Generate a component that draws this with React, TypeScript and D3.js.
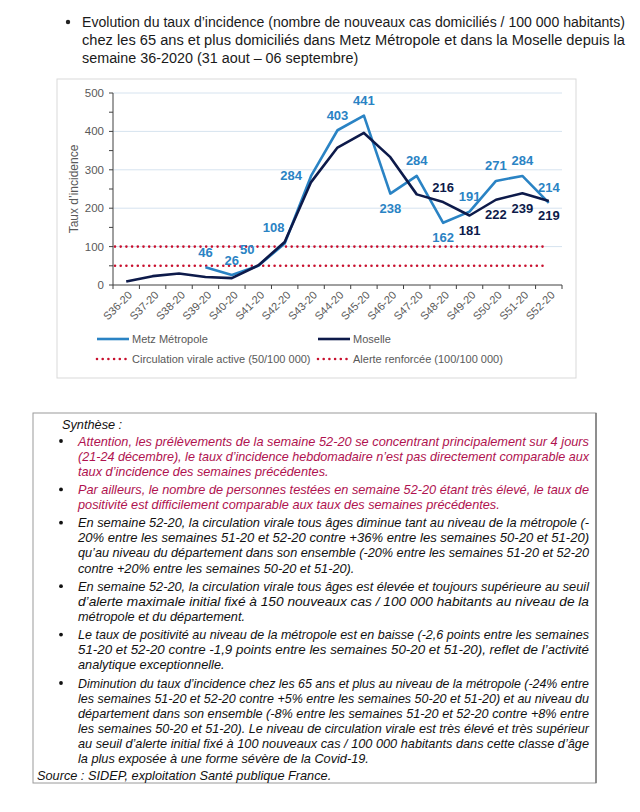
import * as d3 from "d3";
import React, { useEffect, useRef } from "react";

const W = 640;
const H = 812;
const FONT = "'Liberation Sans', Arial, sans-serif";

/* ---------- data ---------- */
const weeks = [
  "S36-20", "S37-20", "S38-20", "S39-20", "S40-20", "S41-20", "S42-20", "S43-20", "S44-20",
  "S45-20", "S46-20", "S47-20", "S48-20", "S49-20", "S50-20", "S51-20", "S52-20",
];
const metz: (number | null)[] = [null, null, null, 46, 26, 50, 108, 284, 403, 441, 238, 284, 162, 191, 271, 284, 214];
const moselle = [9, 23, 30, 21, 18, 51, 112, 268, 358, 396, 333, 236, 216, 181, 222, 239, 219];
const moselleLabelled = ["S48-20", "S49-20", "S50-20", "S51-20", "S52-20"];
const yTicks = [0, 100, 200, 300, 400, 500];
const thresholds = [50, 100];

const seriesNames = ["Metz Métropole", "Moselle"];
const thresholdNames = ["Circulation virale active (50/100 000)", "Alerte renforcée (100/100 000)"];

// where each value label sits relative to its point
const metzPlace = ["t", "t", "t", "t", "t", "tl", "tl", "l", "t", "t", "b", "t", "b", "t", "t", "t", "t"];
const mosellePlace = ["t", "t", "t", "t", "t", "t", "t", "t", "t", "t", "t", "t", "t", "b", "b", "b", "b"];

const titleLines = [
  "Evolution du taux d’incidence (nombre de nouveaux cas domiciliés / 100 000 habitants)",
  "chez les 65 ans et plus domiciliés dans Metz Métropole et dans la Moselle depuis la",
  "semaine 36-2020 (31 aout – 06 septembre)",
];

const synthese: { color: string; lines: string[] }[] = [
  {
    color: "#b0124f",
    lines: [
      "Attention, les prélèvements de la semaine 52-20 se concentrant principalement sur 4 jours",
      "(21-24 décembre), le taux d’incidence hebdomadaire n’est pas directement comparable aux",
      "taux d’incidence des semaines précédentes.",
    ],
  },
  {
    color: "#b0124f",
    lines: [
      "Par ailleurs, le nombre de personnes testées en semaine 52-20 étant très élevé, le taux de",
      "positivité est difficilement comparable aux taux des semaines précédentes.",
    ],
  },
  {
    color: "#111",
    lines: [
      "En semaine 52-20, la circulation virale tous âges diminue tant au niveau de la métropole (-",
      "20% entre les semaines 51-20 et 52-20 contre +36% entre les semaines 50-20 et 51-20)",
      "qu’au niveau du département dans son ensemble (-20% entre les semaines 51-20 et 52-20",
      "contre +20% entre les semaines 50-20 et 51-20).",
    ],
  },
  {
    color: "#111",
    lines: [
      "En semaine 52-20, la circulation virale tous âges est élevée et toujours supérieure au seuil",
      "d’alerte maximale initial fixé à 150 nouveaux cas / 100 000 habitants au niveau de la",
      "métropole et du département.",
    ],
  },
  {
    color: "#111",
    lines: [
      "Le taux de positivité au niveau de la métropole est en baisse (-2,6 points entre les semaines",
      "51-20 et 52-20 contre -1,9 points entre les semaines 50-20 et 51-20), reflet de l’activité",
      "analytique exceptionnelle.",
    ],
  },
  {
    color: "#111",
    lines: [
      "Diminution du taux d’incidence chez les 65 ans et plus au niveau de la métropole (-24% entre",
      "les semaines 51-20 et 52-20 contre +5% entre les semaines 50-20 et 51-20) et au niveau du",
      "département dans son ensemble (-8% entre les semaines 51-20 et 52-20 contre +8% entre",
      "les semaines 50-20 et 51-20). Le niveau de circulation virale est très élevé et très supérieur",
      "au seuil d’alerte initial fixé à 100 nouveaux cas / 100 000 habitants dans cette classe d’âge",
      "la plus exposée à une forme sévère de la Covid-19.",
    ],
  },
];

/* ---------- layout ---------- */
const plot = { left: 113, right: 562, top: 93, bottom: 285 };
const METZ_C = "#2a83c4";
const MOS_C = "#0d1a4a";
const RED = "#c8102e";
const GRAY = "#595959";

const x = d3.scaleBand<string>().domain(weeks).range([plot.left, plot.right]);
const cx = (w: string) => (x(w) ?? 0) + x.bandwidth() / 2;
const y = d3.scaleLinear().domain([0, 500]).range([plot.bottom, plot.top]);

const offsets: Record<string, [number, number]> = {
  t: [0, -15],
  b: [0, 15],
  tl: [-11, -16],
  l: [-20, 0],
};

export default function App() {
  const svgRef = useRef<SVGSVGElement | null>(null);

  // fit justified lines to full width, condense the rest by the same ratio
  useEffect(() => {
    if (!svgRef.current) return;
    const svg = d3.select(svgRef.current);
    ["title", "body"].forEach((grp) => {
      const texts = svg.selectAll<SVGTextElement, unknown>(`text.${grp}`).nodes();
      const ratios: number[] = [];
      texts.forEach((t) => {
        const target = +(t.getAttribute("data-w") || 0);
        if (target > 0) ratios.push(target / t.getComputedTextLength());
      });
      const k = d3.median(ratios) ?? 1;
      texts.forEach((t) => {
        const target = +(t.getAttribute("data-w") || 0);
        const len = target > 0 ? target : t.getComputedTextLength() * k;
        t.setAttribute("textLength", String(len));
        t.setAttribute("lengthAdjust", "spacingAndGlyphs");
      });
    });
  }, []);

  const metzLine = d3
    .line<number | null>()
    .defined((d) => d !== null)
    .x((_, i) => cx(weeks[i]))
    .y((d) => y(d as number));
  const mosLine = d3
    .line<number>()
    .x((_, i) => cx(weeks[i]))
    .y((d) => y(d));

  const thrX0 = plot.left + 2;
  const thrX1 = cx(weeks[weeks.length - 1]) - 2;

  // body text lines
  const bodyLeft = 78;
  const bodyRight = 589;
  let ly = 441;
  const bodyRows: { text: string; y: number; color: string; justify: boolean; bullet: boolean }[] = [];
  synthese.forEach((p) => {
    p.lines.forEach((l, i) => {
      bodyRows.push({ text: l, y: ly, color: p.color, justify: i < p.lines.length - 1, bullet: i === 0 });
      ly += 15.1;
    });
    ly += 3.1;
  });

  return (
    <svg ref={svgRef} width={W} height={H} style={{ display: "block", position: "absolute", left: 0, top: 0 }} fontFamily={FONT}>
      <rect width={W} height={H} fill="#fff" />

      {/* ---------- title ---------- */}
      <circle cx={68} cy={22} r={2.2} fill="#222" />
      {titleLines.map((t, i) => (
        <text
          key={i}
          className="title"
          x={82}
          y={22 + i * 17.8}
          dy="0.35em"
          fontSize={14}
          fill="#1a1a1a"
          data-w={i < titleLines.length - 1 ? 625 - 82 : 0}
        >
          {t}
        </text>
      ))}

      {/* ---------- chart frame ---------- */}
      <rect x={57} y={79} width={519} height={299} fill="#fff" stroke="#d9d9d9" />

      {/* gridlines */}
      {yTicks.slice(1).map((t) => (
        <line key={t} x1={plot.left} x2={plot.right} y1={y(t)} y2={y(t)} stroke="#d6e3ef" />
      ))}

      {/* thresholds */}
      {thresholds.map((t) => (
        <line
          key={t}
          x1={thrX0}
          x2={thrX1}
          y1={y(t)}
          y2={y(t)}
          stroke={RED}
          strokeWidth={2.6}
          strokeDasharray="0 5.7"
          strokeLinecap="round"
        />
      ))}

      {/* axes */}
      <line x1={plot.left} x2={plot.left} y1={plot.top} y2={plot.bottom} stroke="#404040" />
      {d3.range(0, 501, 50).map((t) => (
        <line key={t} x1={plot.left - 4} x2={plot.left} y1={y(t)} y2={y(t)} stroke="#404040" />
      ))}
      {yTicks.map((t) => (
        <text key={t} x={plot.left - 9} y={y(t)} dy="0.35em" textAnchor="end" fontSize={11.5} fill={GRAY}>
          {t}
        </text>
      ))}
      <text
        transform={`translate(74,${(plot.top + plot.bottom) / 2}) rotate(-90)`}
        textAnchor="middle"
        dy="0.35em"
        fontSize={12}
        fill={GRAY}
      >
        Taux d’incidence
      </text>

      <line x1={plot.left} x2={plot.right} y1={plot.bottom} y2={plot.bottom} stroke="#404040" />
      {[...weeks.map((w) => x(w) ?? 0), plot.right].map((v, i) => (
        <line key={i} x1={v} x2={v} y1={plot.bottom} y2={plot.bottom + 4} stroke="#404040" />
      ))}
      {weeks.map((w) => (
        <text
          key={w}
          transform={`translate(${cx(w) + 4},${plot.bottom + 8}) rotate(-45)`}
          textAnchor="end"
          dy="0.35em"
          fontSize={11}
          fill={GRAY}
        >
          {w}
        </text>
      ))}

      {/* series */}
      <path d={metzLine(metz) ?? ""} fill="none" stroke={METZ_C} strokeWidth={2.6} strokeLinejoin="round" />
      <path d={mosLine(moselle) ?? ""} fill="none" stroke={MOS_C} strokeWidth={2.6} strokeLinejoin="round" />

      {/* value labels */}
      {metz.map((v, i) => {
        if (v === null) return null;
        const [dx, dy] = offsets[metzPlace[i]];
        return (
          <text
            key={"m" + i}
            x={cx(weeks[i]) + dx}
            y={y(v) + dy}
            dy="0.35em"
            textAnchor="middle"
            fontSize={13}
            fontWeight="bold"
            fill={METZ_C}
          >
            {v}
          </text>
        );
      })}
      {moselle.map((v, i) => {
        if (!moselleLabelled.includes(weeks[i])) return null;
        const [dx, dy] = offsets[mosellePlace[i]];
        return (
          <text
            key={"s" + i}
            x={cx(weeks[i]) + dx}
            y={y(v) + dy}
            dy="0.35em"
            textAnchor="middle"
            fontSize={13}
            fontWeight="bold"
            fill={MOS_C}
          >
            {v}
          </text>
        );
      })}

      {/* legend */}
      {seriesNames.map((n, i) => {
        const lx = i === 0 ? 97 : 318;
        return (
          <g key={n}>
            <line x1={lx} x2={lx + 32} y1={339} y2={339} stroke={i === 0 ? METZ_C : MOS_C} strokeWidth={2.6} />
            <text x={lx + 35} y={339} dy="0.35em" fontSize={11} fill={GRAY}>
              {n}
            </text>
          </g>
        );
      })}
      {thresholdNames.map((n, i) => {
        const lx = i === 0 ? 97 : 318;
        return (
          <g key={n}>
            <line
              x1={lx}
              x2={lx + 31}
              y1={359}
              y2={359}
              stroke={RED}
              strokeWidth={2.6}
              strokeDasharray="0 5.7"
              strokeLinecap="round"
            />
            <text x={lx + 35} y={359} dy="0.35em" fontSize={11} fill={GRAY}>
              {n}
            </text>
          </g>
        );
      })}

      {/* ---------- synthèse box ---------- */}
      <rect x={33} y={413} width={563} height={370} fill="#fff" stroke="#9a9a9a" />
      <line x1={596} x2={596} y1={413} y2={783} stroke="#7a7a7a" strokeWidth={1.5} />
      <text className="body" x={62} y={424} dy="0.35em" fontSize={13} fontStyle="italic" fill="#111">
        Synthèse :
      </text>
      {bodyRows.map((r, i) => (
        <g key={i}>
          {r.bullet && <circle cx={61} cy={r.y} r={1.9} fill="#111" />}
          <text
            className="body"
            x={bodyLeft}
            y={r.y}
            dy="0.35em"
            fontSize={13}
            fontStyle="italic"
            fill={r.color}
            data-w={r.justify ? bodyRight - bodyLeft : 0}
          >
            {r.text}
          </text>
        </g>
      ))}
      <text className="body" x={37} y={775} dy="0.35em" fontSize={13} fontStyle="italic" fill="#111">
        Source : SIDEP, exploitation Santé publique France.
      </text>
    </svg>
  );
}
